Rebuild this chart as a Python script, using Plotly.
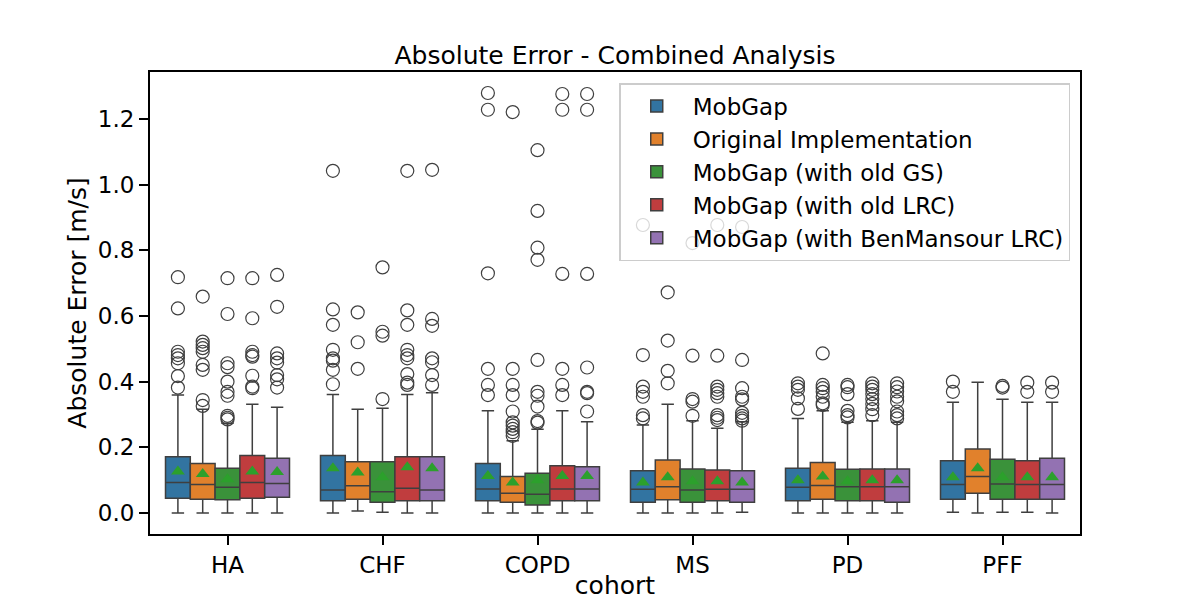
import plotly.graph_objects as go

COHORTS = ["HA", "CHF", "COPD", "MS", "PD", "PFF"]
SERIES = ["MobGap", "Original Implementation", "MobGap (with old GS)",
          "MobGap (with old LRC)", "MobGap (with BenMansour LRC)"]
COLORS = ["#3274a1", "#e1812c", "#3a923a", "#c03d3e", "#9372b2"]

# MobGap
Q1_MOBGAP = [0.045, 0.037, 0.037, 0.033, 0.037, 0.042]
MED_MOBGAP = [0.093, 0.070, 0.073, 0.072, 0.078, 0.087]
Q3_MOBGAP = [0.171, 0.175, 0.151, 0.129, 0.136, 0.159]
LO_MOBGAP = [0.0, 0.0, 0.0, 0.0, 0.0, 0.002]
HI_MOBGAP = [0.359, 0.361, 0.311, 0.268, 0.288, 0.337]
MEAN_MOBGAP = [0.126, 0.136, 0.113, 0.093, 0.100, 0.109]
OUT_MOBGAP = [
    [0.718, 0.623, 0.491, 0.481, 0.471, 0.456, 0.417, 0.382],
    [1.042, 0.620, 0.573, 0.497, 0.471, 0.464, 0.436, 0.392],
    [1.279, 1.228, 0.730, 0.439, 0.390, 0.359],
    [0.877, 0.481, 0.385, 0.369, 0.354, 0.298, 0.288],
    [0.395, 0.385, 0.375, 0.349, 0.317],
    [0.400, 0.369],
]

# Original Implementation
Q1_ORIG = [0.042, 0.042, 0.033, 0.040, 0.042, 0.060]
MED_ORIG = [0.087, 0.083, 0.060, 0.080, 0.084, 0.111]
Q3_ORIG = [0.151, 0.156, 0.111, 0.161, 0.154, 0.195]
LO_ORIG = [0.0, 0.006, 0.0, 0.0, 0.0, 0.0]
HI_ORIG = [0.316, 0.316, 0.220, 0.331, 0.311, 0.398]
MEAN_ORIG = [0.119, 0.123, 0.093, 0.109, 0.111, 0.136]
OUT_ORIG = [
    [0.659, 0.522, 0.512, 0.502, 0.491, 0.451, 0.436, 0.344, 0.326],
    [0.611, 0.520, 0.439],
    [1.221, 0.439, 0.390, 0.359, 0.309, 0.276, 0.266, 0.256, 0.246, 0.235],
    [0.672, 0.525, 0.433, 0.395],
    [0.486, 0.390, 0.380, 0.369, 0.354, 0.334, 0.329],
    [],
]

# MobGap (with old GS)
Q1_OLDGS = [0.040, 0.033, 0.024, 0.033, 0.037, 0.042]
MED_OLDGS = [0.078, 0.065, 0.057, 0.070, 0.080, 0.088]
Q3_OLDGS = [0.136, 0.156, 0.121, 0.134, 0.133, 0.164]
LO_OLDGS = [0.0, 0.002, 0.0, 0.0, 0.0, 0.002]
HI_OLDGS = [0.273, 0.319, 0.255, 0.281, 0.276, 0.346]
MEAN_OLDGS = [0.103, 0.109, 0.100, 0.097, 0.097, 0.109]
OUT_OLDGS = [
    [0.715, 0.606, 0.456, 0.444, 0.400, 0.369, 0.357, 0.296, 0.290, 0.285],
    [0.748, 0.552, 0.540, 0.347],
    [1.105, 0.920, 0.808, 0.771, 0.466, 0.369, 0.357, 0.324, 0.280, 0.275],
    [0.822, 0.479, 0.347, 0.339, 0.296],
    [0.390, 0.383, 0.362, 0.311, 0.298, 0.291],
    [0.387, 0.382],
]

# MobGap (with old LRC)
Q1_OLDLRC = [0.045, 0.037, 0.037, 0.037, 0.037, 0.042]
MED_OLDLRC = [0.093, 0.075, 0.073, 0.072, 0.080, 0.087]
Q3_OLDLRC = [0.175, 0.171, 0.144, 0.131, 0.134, 0.159]
LO_OLDLRC = [0.0, 0.0, 0.0, 0.0, 0.0, 0.002]
HI_OLDLRC = [0.331, 0.361, 0.311, 0.258, 0.281, 0.337]
MEAN_OLDLRC = [0.126, 0.139, 0.113, 0.097, 0.100, 0.109]
OUT_OLDLRC = [
    [0.715, 0.593, 0.491, 0.481, 0.476, 0.418, 0.385, 0.380],
    [1.042, 0.617, 0.573, 0.497, 0.481, 0.471, 0.423, 0.397, 0.390],
    [1.276, 1.228, 0.728, 0.439, 0.390, 0.359],
    [0.877, 0.479, 0.385, 0.375, 0.365, 0.354, 0.298, 0.290, 0.283],
    [0.395, 0.385, 0.375, 0.362, 0.347, 0.332, 0.316, 0.298],
    [0.397, 0.369],
]

# MobGap (with BenMansour LRC)
Q1_BEN = [0.048, 0.037, 0.037, 0.033, 0.033, 0.042]
MED_BEN = [0.090, 0.070, 0.073, 0.072, 0.080, 0.087]
Q3_BEN = [0.167, 0.171, 0.141, 0.129, 0.134, 0.167]
LO_BEN = [0.0, 0.0, 0.0, 0.002, 0.0, 0.0]
HI_BEN = [0.322, 0.366, 0.278, 0.278, 0.276, 0.337]
MEAN_BEN = [0.125, 0.136, 0.113, 0.093, 0.100, 0.109]
OUT_BEN = [
    [0.725, 0.628, 0.486, 0.471, 0.458, 0.420, 0.407, 0.382],
    [1.045, 0.591, 0.570, 0.471, 0.459, 0.420, 0.390],
    [1.276, 1.228, 0.728, 0.443, 0.369, 0.365, 0.309],
    [0.871, 0.466, 0.380, 0.354, 0.346, 0.305, 0.296, 0.288, 0.281],
    [0.395, 0.383, 0.370, 0.354, 0.340, 0.309, 0.298, 0.288],
    [0.397, 0.369],
]

Y_TICKS = [0.0, 0.2, 0.4, 0.6, 0.8, 1.0, 1.2]

STATS = [
    (Q1_MOBGAP, MED_MOBGAP, Q3_MOBGAP, LO_MOBGAP, HI_MOBGAP, MEAN_MOBGAP, OUT_MOBGAP),
    (Q1_ORIG, MED_ORIG, Q3_ORIG, LO_ORIG, HI_ORIG, MEAN_ORIG, OUT_ORIG),
    (Q1_OLDGS, MED_OLDGS, Q3_OLDGS, LO_OLDGS, HI_OLDGS, MEAN_OLDGS, OUT_OLDGS),
    (Q1_OLDLRC, MED_OLDLRC, Q3_OLDLRC, LO_OLDLRC, HI_OLDLRC, MEAN_OLDLRC, OUT_OLDLRC),
    (Q1_BEN, MED_BEN, Q3_BEN, LO_BEN, HI_BEN, MEAN_BEN, OUT_BEN),
]

LINE = "#3f3f3f"
FONT = "DejaVu Sans"

fig = go.Figure()
for name, color, (q1, med, q3, lo, hi, mean, outs) in zip(SERIES, COLORS, STATS):
    fig.add_trace(go.Box(
        name=name, x=COHORTS, q1=q1, median=med, q3=q3,
        lowerfence=lo, upperfence=hi,
        fillcolor=color, line=dict(color=LINE, width=1.5),
        whiskerwidth=0.5, boxpoints=False, offsetgroup=name,
        hoverinfo="skip",
    ))
    ox, oy = [], []
    for c, vals in zip(COHORTS, outs):
        for v in vals:
            ox.append(c)
            oy.append(v)
    fig.add_trace(go.Scatter(
        x=ox, y=oy, mode="markers", showlegend=False, offsetgroup=name,
        marker=dict(symbol="circle-open", size=13, color=LINE,
                    line=dict(width=1.2, color=LINE)),
        hoverinfo="skip",
    ))
    fig.add_trace(go.Scatter(
        x=COHORTS, y=mean, mode="markers", showlegend=False, offsetgroup=name,
        marker=dict(symbol="triangle-up", size=12, color="#2ca02c"),
        hoverinfo="skip",
    ))

fig.update_layout(
    width=1200, height=600,
    margin=dict(l=150, r=120, t=72, b=66, autoexpand=False),
    paper_bgcolor="white", plot_bgcolor="white",
    font=dict(family=FONT, size=23, color="black"),
    boxmode="group", boxgap=0.2, boxgroupgap=0,
    scattermode="group", scattergap=0.2,
    title=dict(text="Absolute Error - Combined Analysis", x=0.5, xref="paper",
               xanchor="center", y=1 - 55 / 600, yanchor="middle",
               font=dict(size=25)),
    legend=dict(x=0.9895, y=0.976, xanchor="right", yanchor="top",
                bgcolor="rgba(255,255,255,0.8)", bordercolor="#cccccc",
                borderwidth=1.5, font=dict(size=23), itemwidth=62,
                tracegroupgap=2),
    showlegend=True,
)
fig.update_xaxes(
    type="category", categoryorder="array", categoryarray=COHORTS,
    range=[-0.5, 5.5], showline=True, mirror=True, linecolor="black", linewidth=2,
    ticks="outside", ticklen=9, tickwidth=2, tickcolor="black",
    showgrid=False, zeroline=False, automargin=True,
    title=dict(text="cohort", font=dict(size=25), standoff=2),
)
fig.update_yaxes(
    range=[-0.064, 1.343], tickvals=Y_TICKS, tickformat=".1f",
    showline=True, mirror=True, linecolor="black", linewidth=2,
    ticks="outside", ticklen=9, tickwidth=2, tickcolor="black",
    showgrid=False, zeroline=False, automargin=False,
    title=dict(text="Absolute Error [m/s]", font=dict(size=25), standoff=4),
)

fig.write_html("out.html")
